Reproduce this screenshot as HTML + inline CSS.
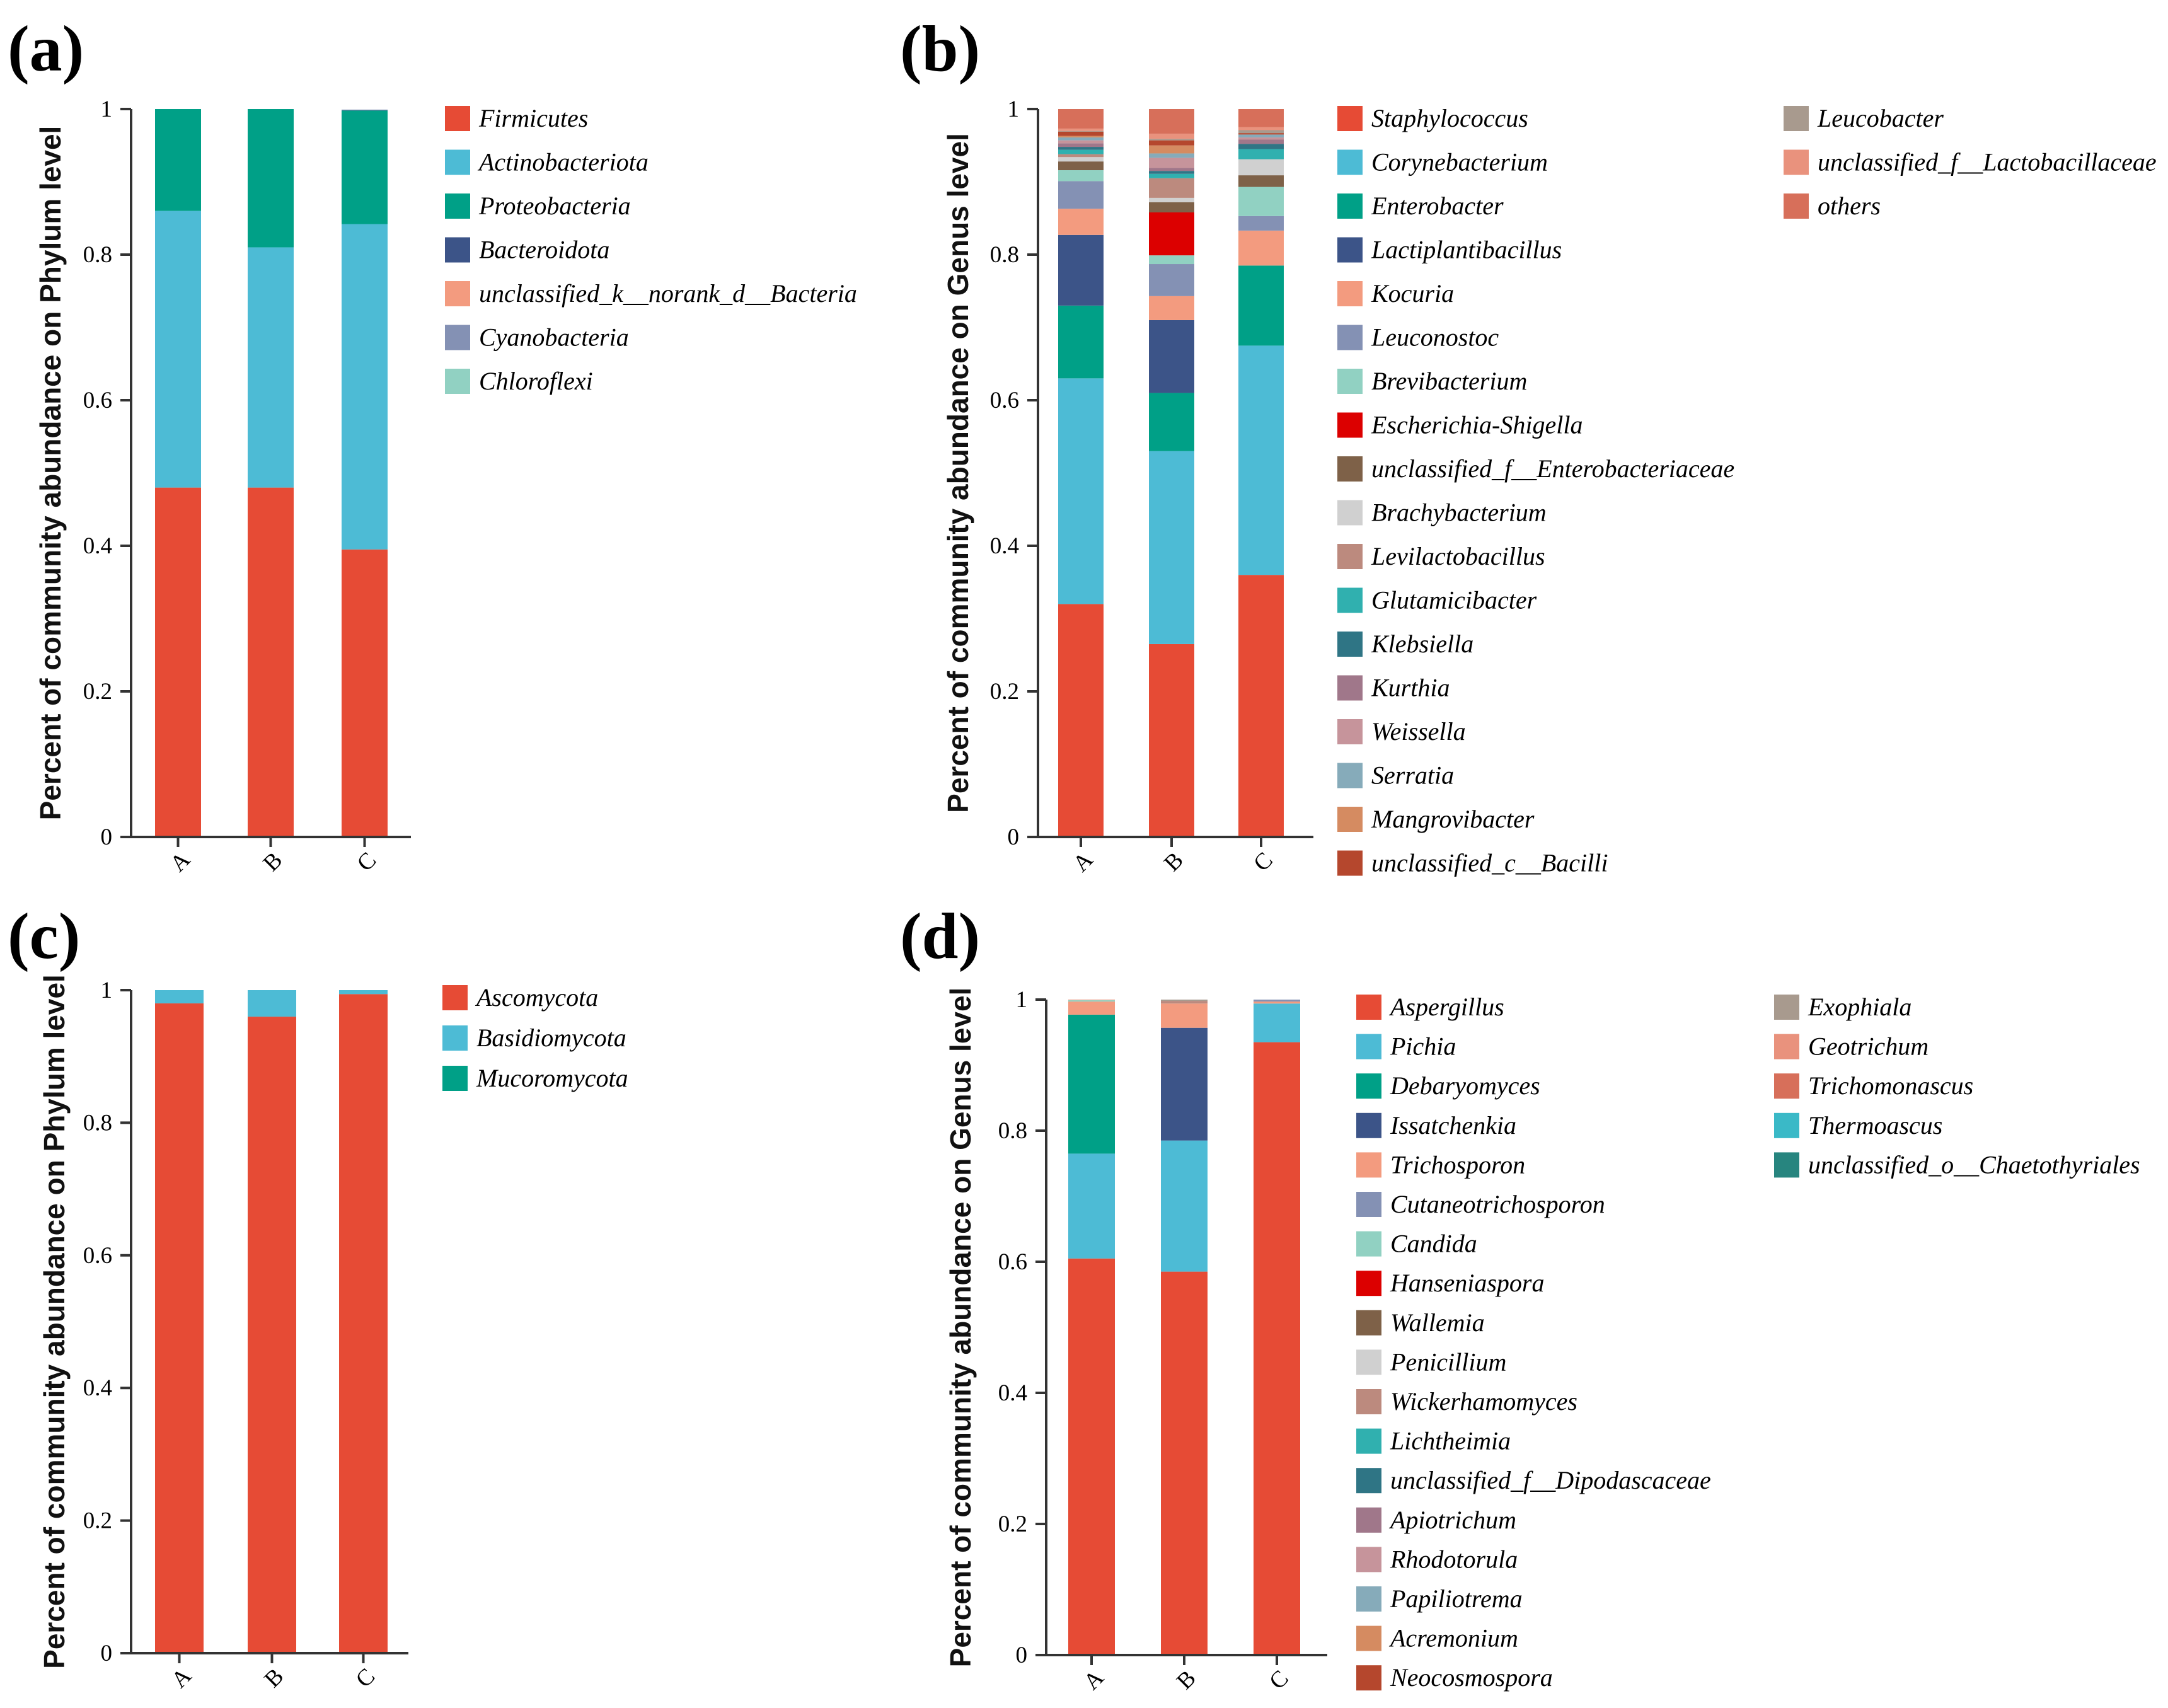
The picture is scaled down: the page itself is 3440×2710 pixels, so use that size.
<!DOCTYPE html>
<html><head><meta charset="utf-8"><style>
body{margin:0;background:#fff}
svg{display:block}
.tick{font-family:"Liberation Serif",serif;font-size:37px;fill:#000}
.ytitle{font-family:"Liberation Sans",sans-serif;font-size:46px;font-weight:bold;fill:#111}
.leg{font-family:"Liberation Serif",serif;font-style:italic;font-size:40px;fill:#000}
.plab{font-family:"Liberation Serif",serif;font-weight:bold;font-size:104px;fill:#000}
</style></head><body>
<svg id="root" width="3440" height="2710" viewBox="0 0 3440 2710" xmlns="http://www.w3.org/2000/svg">
<text class="plab" x="12" y="112">(a)</text>
<text class="plab" x="1428" y="112">(b)</text>
<text class="plab" x="12" y="1520">(c)</text>
<text class="plab" x="1428" y="1520">(d)</text>
</svg>
<script>
const samples = ["A","B","C"];
const yTicks = [0,0.2,0.4,0.6,0.8,1];
const yTickLabels = ["0","0.2","0.4","0.6","0.8","1"];

const aTaxa = ["Firmicutes","Actinobacteriota","Proteobacteria","Bacteroidota","unclassified_k__norank_d__Bacteria","Cyanobacteria","Chloroflexi"];
const aA = [0.48,0.38,0.14,0,0,0,0];
const aB = [0.48,0.33,0.19,0,0,0,0];
const aC = [0.395,0.447,0.156,0.001,0,0,0];

const bTaxa = ["Staphylococcus","Corynebacterium","Enterobacter","Lactiplantibacillus","Kocuria","Leuconostoc","Brevibacterium","Escherichia-Shigella","unclassified_f__Enterobacteriaceae","Brachybacterium","Levilactobacillus","Glutamicibacter","Klebsiella","Kurthia","Weissella","Serratia","Mangrovibacter","unclassified_c__Bacilli","Leucobacter","unclassified_f__Lactobacillaceae","others"];
const bA = [0.32,0.31,0.10,0.097,0.036,0.038,0.015,0,0.012,0.006,0.004,0.006,0.004,0.005,0.004,0.004,0.002,0.006,0.001,0.003,0.027];
const bB = [0.265,0.265,0.08,0.10,0.033,0.044,0.012,0.059,0.014,0.006,0.027,0.006,0.004,0.004,0.014,0.006,0.011,0.007,0.002,0.007,0.034];
const bC = [0.36,0.315,0.11,0,0.048,0.02,0.04,0,0.016,0.022,0,0.014,0.007,0.006,0.003,0.004,0,0.002,0.004,0.004,0.025];

const cTaxa = ["Ascomycota","Basidiomycota","Mucoromycota"];
const cA = [0.98,0.02,0];
const cB = [0.96,0.04,0];
const cC = [0.994,0.006,0];

const dTaxa = ["Aspergillus","Pichia","Debaryomyces","Issatchenkia","Trichosporon","Cutaneotrichosporon","Candida","Hanseniaspora","Wallemia","Penicillium","Wickerhamomyces","Lichtheimia","unclassified_f__Dipodascaceae","Apiotrichum","Rhodotorula","Papiliotrema","Acremonium","Neocosmospora","Exophiala","Geotrichum","Trichomonascus","Thermoascus","unclassified_o__Chaetothyriales"];
const dA = [0.605,0.16,0.212,0,0.02,0,0.002,0,0,0,0,0,0,0,0,0,0,0,0,0.001,0,0,0];
const dB = [0.585,0.20,0,0.172,0.037,0,0,0,0,0,0.004,0,0,0,0,0,0,0,0.002,0,0,0,0];
const dC = [0.935,0.059,0,0,0.003,0.003,0,0,0,0,0,0,0,0,0,0,0,0,0,0,0,0,0];

const palette = ["#E64B35","#4DBBD5","#00A087","#3C5488","#F39B7F","#8491B4","#91D1C2","#DC0000","#7E6148","#D0D0D0","#BC8A7E","#30B0AF","#2F7585","#A0778A","#C6949B","#86ABBA","#D58B61","#B5472D","#A89A8E","#E9927D","#D76F5A","#3AB9C7","#27857F"];

const NS="http://www.w3.org/2000/svg";
const root=document.getElementById('root');
function mk(tag,attrs,parent){const e=document.createElementNS(NS,tag);for(const k in attrs)e.setAttribute(k,attrs[k]);(parent||root).appendChild(e);return e;}

function panel(cfg){
  const g=mk('g',{});
  
  
  const yS=v=>cfg.y0-(cfg.y0-cfg.y1)*v;
  cfg.data.forEach((vals,i)=>{
    let acc=0;
    const bx=cfg.barX[i];
    vals.forEach((v,j)=>{
      if(v<=0)return;
      const r=mk('rect',{x:bx,y:yS(acc+v),width:cfg.barW,height:yS(acc)-yS(acc+v),fill:palette[j]},g);
      
      
      acc+=v;
    });
  });
  const ax=mk('g',{},g);
  
  
  mk('line',{x1:cfg.ax,y1:yS(1),x2:cfg.ax,y2:cfg.y0,stroke:'#333','stroke-width':4},ax);
  yTicks.forEach((t,k)=>{
    mk('line',{x1:cfg.ax-17,y1:yS(t),x2:cfg.ax,y2:yS(t),stroke:'#333','stroke-width':4},ax);
    const tx=mk('text',{x:cfg.ax-30,y:yS(t)+12,'text-anchor':'end',class:'tick'},ax);
    tx.textContent=yTickLabels[k];
    
    
  });
  const xa=mk('g',{},g);
  
  
  mk('line',{x1:cfg.ax,y1:cfg.y0,x2:cfg.axEnd,y2:cfg.y0,stroke:'#333','stroke-width':4},xa);
  samples.forEach((s,i)=>{
    const cx=cfg.barX[i]+cfg.barW/2;
    mk('line',{x1:cx,y1:cfg.y0,x2:cx,y2:cfg.y0+16,stroke:'#333','stroke-width':4},xa);
    const tx=mk('text',{x:cx+6,y:cfg.y0+50,'text-anchor':'middle',class:'tick',transform:`rotate(-45 ${cx+6} ${cfg.y0+42})`},xa);
    tx.textContent=s;
    
    
  });
  const yt=mk('text',{x:cfg.titleX,y:(cfg.y0+yS(1))/2,'text-anchor':'middle',class:'ytitle',transform:`rotate(-90 ${cfg.titleX} ${(cfg.y0+yS(1))/2})`},g);
  yt.textContent=cfg.title;
  
  
  cfg.taxa.forEach((t,j)=>{
    const col=j<cfg.perCol?0:1;
    const row=col?j-cfg.perCol:j;
    const lx=cfg.legX[col], ly=cfg.legY+row*cfg.legDy;
    const lg=mk('g',{},g);
    
    
    mk('rect',{x:lx,y:ly-20,width:40,height:40,fill:palette[j]},lg);
    const tx=mk('text',{x:lx+54,y:ly+13,class:'leg'},lg);
    tx.textContent=t;
  });
}

panel({name:'panel-a',taxa:aTaxa,data:[aA,aB,aC],y0:1328,y1:173,ax:208,axEnd:652,barX:[246,393,542],barW:73,
  title:'Percent of community abundance on Phylum level',titleX:96,legX:[706],legY:188,legDy:69.5,perCol:99});
panel({name:'panel-b',taxa:bTaxa,data:[bA,bB,bC],y0:1328,y1:173,ax:1647,axEnd:2084,barX:[1679,1823,1965],barW:72,
  title:'Percent of community abundance on Genus level',titleX:1536,legX:[2122,2830],legY:188,legDy:69.5,perCol:18});
panel({name:'panel-c',taxa:cTaxa,data:[cA,cB,cC],y0:2623,y1:1571,ax:208,axEnd:648,barX:[246,393,538],barW:77,
  title:'Percent of community abundance on Phylum level',titleX:102,legX:[702],legY:1583,legDy:64,perCol:99});
panel({name:'panel-d',taxa:dTaxa,data:[dA,dB,dC],y0:2626,y1:1586,ax:1660,axEnd:2106,barX:[1695,1842,1989],barW:74,
  title:'Percent of community abundance on Genus level',titleX:1540,legX:[2152,2815],legY:1598,legDy:62.6,perCol:18});
</script>
</body></html>
